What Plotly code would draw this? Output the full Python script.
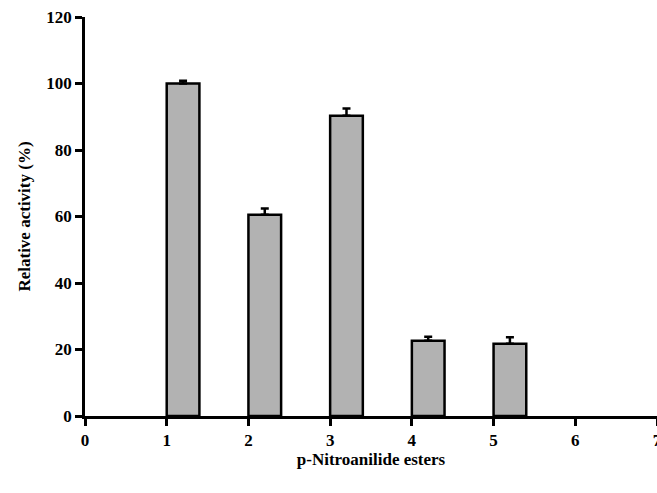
import plotly.graph_objects as go

# Substrate index (bars start at each integer tick), relative activity and upper SD
substrates = [1, 2, 3, 4, 5]
activity = [100.0, 60.5, 90.3, 22.6, 21.7]
error_up = [0.8, 1.9, 2.2, 1.2, 2.0]
x_ticks = [0, 1, 2, 3, 4, 5, 6, 7]
y_ticks = [0, 20, 40, 60, 80, 100, 120]

bar_width = 0.4
bar_centers = [s + bar_width / 2 for s in substrates]

fig = go.Figure(
    go.Bar(
        x=bar_centers,
        y=activity,
        width=bar_width,
        marker=dict(color="#b2b2b2", line=dict(color="black", width=2.5)),
        error_y=dict(
            type="data",
            symmetric=False,
            array=error_up,
            arrayminus=[0] * len(error_up),
            color="black",
            thickness=2.5,
            width=4,
        ),
    )
)

tick_font = dict(family="Liberation Serif", size=17, color="black", weight="bold")
title_font = dict(family="Liberation Serif", size=17, color="black", weight="bold")

fig.update_layout(
    width=657,
    height=493,
    margin=dict(l=85, r=0, t=17, b=77),
    paper_bgcolor="white",
    plot_bgcolor="white",
    showlegend=False,
    xaxis=dict(
        range=[0, 7],
        tickmode="array",
        tickvals=x_ticks,
        ticktext=[str(v) for v in x_ticks],
        ticklabeloverflow="allow",
        automargin=False,
        showgrid=False,
        zeroline=False,
        showline=True,
        linecolor="black",
        linewidth=2.5,
        ticks="outside",
        ticklen=7,
        tickwidth=2.5,
        tickcolor="black",
        tickfont=tick_font,
        title=dict(text="p-Nitroanilide esters", font=title_font, standoff=4),
    ),
    yaxis=dict(
        range=[0, 120],
        tickmode="array",
        tickvals=y_ticks,
        automargin=False,
        showgrid=False,
        zeroline=False,
        showline=True,
        linecolor="black",
        linewidth=2.5,
        ticks="outside",
        ticklen=7,
        tickwidth=2.5,
        tickcolor="black",
        tickfont=tick_font,
        title=dict(text="Relative activity (%)", font=title_font, standoff=12),
    ),
)

fig.write_html("out.html")
